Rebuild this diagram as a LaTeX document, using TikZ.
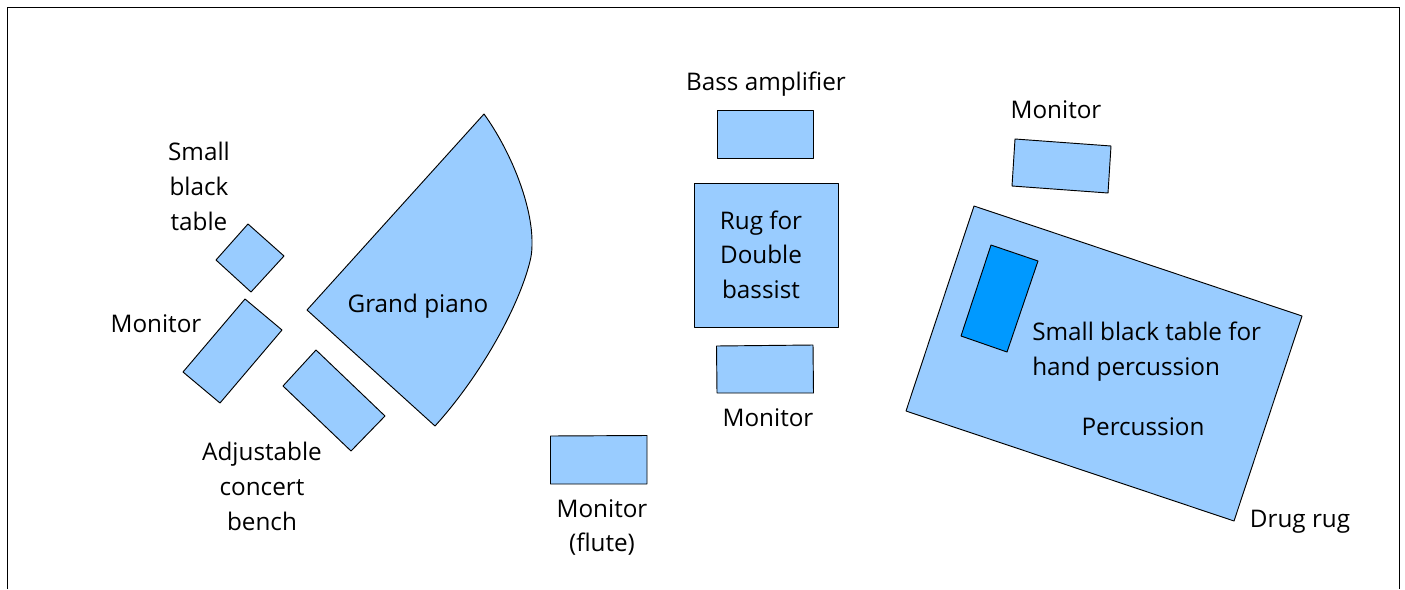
\documentclass[tikz,border=0pt]{standalone}
\usepackage{fontspec}
\setmainfont{Open Sans}
\definecolor{lb}{RGB}{153,204,255}
\definecolor{db}{RGB}{0,153,255}
\tikzset{x=0.75pt,y=-0.75pt,
 shp/.style={draw=black,fill=lb,line width=0.7pt,line join=round},
 lab/.style={font=\fontsize{18.2}{26}\selectfont,align=center,inner sep=0pt,text=black}}
\begin{document}
\begin{tikzpicture}
\useasboundingbox (0,0) rectangle (1405,589);
\draw[line width=0.7pt] (7.5,589) -- (7.5,7) -- (1399.5,7) -- (1399.5,589);
\draw[shp] (484,114) .. controls (510,150) and (533,205) .. (532,245) .. controls (532,255) and (530,262) .. (527,272) .. controls (512,320) and (475,382) .. (435,426) -- (307,310) -- cycle;
\draw[shp] (248,224) -- (284,256) -- (251,292) -- (216,260) -- cycle;
\draw[shp] (245,299) -- (282,330) -- (220,403) -- (183,372) -- cycle;
\draw[shp] (316,350) -- (385,416) -- (351,451) -- (283,386) -- cycle;
\draw[shp] (550.5,436) -- (647,435.5) -- (647,484) -- (550.5,484) -- cycle;
\draw[shp] (717,110) rectangle (813,158);
\draw[shp] (694.5,183) rectangle (838.5,327);
\draw[shp] (716.5,346) -- (813,345) -- (813.5,393) -- (717,393) -- cycle;
\draw[shp] (1015,139) -- (1111,146) -- (1108,193) -- (1012,186) -- cycle;
\draw[shp] (974,206) -- (1302,316) -- (1234,521) -- (906,411) -- cycle;
\draw[shp,fill=db] (991,245) -- (1038,261) -- (1007,352) -- (961,336) -- cycle;
\node[lab] (a) at (199,186.5) {Small\\black\\table};
\node[lab] (b) at (156,324) {Monitor};
\node[lab] (c) at (262,486.5) {Adjustable\\concert\\bench};
\node[lab] (d) at (418,306.5) {Grand piano};
\node[lab] (e) at (602,527.5) {Monitor\\(flute)};
\node[lab] (f) at (766,84) {Bass amplifier};
\node[lab] (g) at (761,254.5) {Rug for\\Double\\bassist};
\node[lab] (h) at (768,418) {Monitor};
\node[lab] (i) at (1056,110) {Monitor};
\node[lab,align=left,anchor=west] (j) at (1032,351.5) {Small black table for\\hand percussion};
\node[lab] (k) at (1143,427) {Percussion};
\node[lab] (l) at (1300,522) {Drug rug};
\end{tikzpicture}
\end{document}
